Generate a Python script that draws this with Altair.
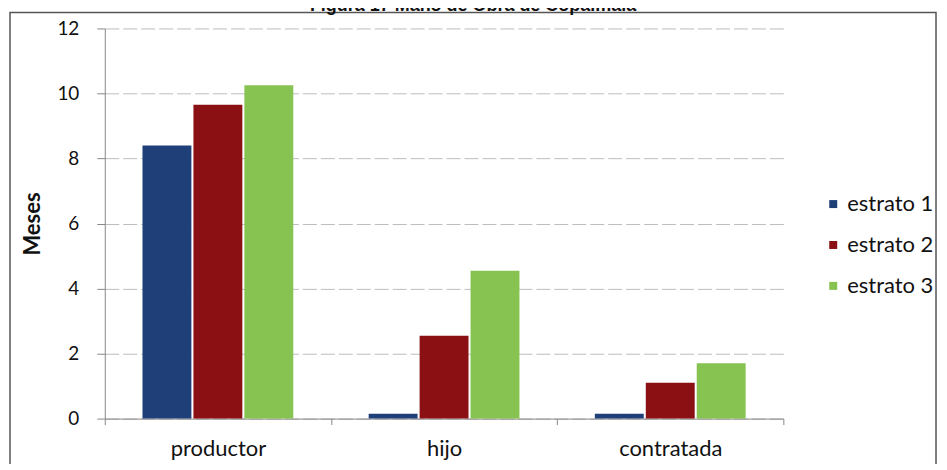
import altair as alt
import pandas as pd

categories = ["productor", "hijo", "contratada"]
series = ["estrato 1", "estrato 2", "estrato 3"]
estrato1 = [8.4, 0.15, 0.15]
estrato2 = [9.65, 2.55, 1.1]
estrato3 = [10.25, 4.55, 1.7]
colors = ["#1e3f78", "#8b1014", "#87c350"]
y_ticks = [0, 2, 4, 6, 8, 10, 12]
title_text = "Figura 17 Mano de Obra de Copalmala"

rows = []
for s, vals in zip(series, [estrato1, estrato2, estrato3]):
    for c, v in zip(categories, vals):
        rows.append({"categoria": c, "serie": s, "meses": v})
df = pd.DataFrame(rows)

W, H = 680, 391
font = "Lato"

bars = alt.Chart(df).mark_bar().encode(
    x=alt.X("categoria:N", sort=categories,
            scale=alt.Scale(paddingInner=0, paddingOuter=0),
            axis=alt.Axis(title=None, labelAngle=0, labelFontSize=22, labelFont=font,
                          labelColor="#111", labelPadding=14, tickBand="extent",
                          domainColor="#888", tickColor="#888", tickSize=6, grid=False)),
    xOffset=alt.XOffset("serie:N", sort=series,
                        scale=alt.Scale(paddingInner=0.04, paddingOuter=0.74)),
    y=alt.Y("meses:Q", scale=alt.Scale(domain=[0, 12]),
            axis=alt.Axis(title="Meses", titleFont=font, titleFontSize=22, titleFontWeight="bold",
                          titleColor="#111", titlePadding=12,
                          values=y_ticks, labelFontSize=19, labelFont=font, labelColor="#111",
                          labelPadding=18, tickSize=8, tickColor="#888", domainColor="#888",
                          gridColor="#bdbdbd", gridDash=[14, 4])),
    color=alt.Color("serie:N", sort=series,
                    scale=alt.Scale(domain=series, range=colors),
                    legend=alt.Legend(title=None, orient="none", legendX=719, legendY=165,
                                      symbolType="square", symbolSize=64, symbolStrokeWidth=0,
                                      labelFontSize=22, labelFont=font, labelColor="#111",
                                      rowPadding=19, labelOffset=3)),
)

frame = alt.Chart(pd.DataFrame({"t": [title_text]})).mark_rect(
    fill=None, stroke="#555", strokeWidth=1.5
).encode(x=alt.value(-95), x2=alt.value(833), y=alt.value(-16), y2=alt.value(445))

title = alt.Chart(pd.DataFrame({"t": [title_text]})).mark_text(
    font="Liberation Sans", fontSize=18, fontWeight="bold", color="#111", baseline="alphabetic"
).encode(text="t:N", x=alt.value(369), y=alt.value(-17))

chart = alt.layer(frame, bars, title).properties(
    width=W, height=H,
    background="white",
    autosize=alt.AutoSizeParams(type="none"),
    padding={"left": 97, "top": 20, "right": 156, "bottom": 45},
).configure_view(stroke=None)

chart.save("out.html", embed_options={"renderer": "svg", "actions": False})
